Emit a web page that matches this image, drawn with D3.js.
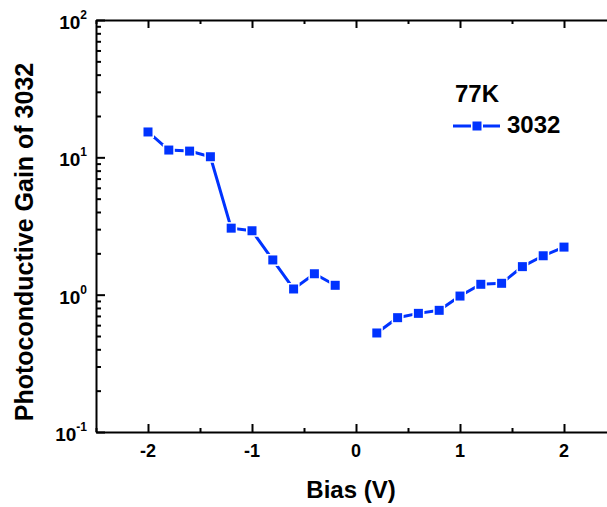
<!DOCTYPE html>
<html>
<head>
<meta charset="utf-8">
<script src="https://cdn.jsdelivr.net/npm/d3@7"></script>
<style>
  html, body { margin: 0; padding: 0; background: #fff; }
  svg { display: block; }
  text { font-family: "Liberation Sans", Arial, sans-serif; font-weight: bold; fill: #000; }
</style>
</head>
<body>
<svg id="chart" width="607" height="507"></svg>
<script>
// ---- data ----
const biasNeg = [-2.0, -1.8, -1.6, -1.4, -1.2, -1.0, -0.8, -0.6, -0.4, -0.2];
const gainNeg = [15.3, 11.3, 11.1, 10.1, 3.05, 2.92, 1.79, 1.10, 1.42, 1.17];
const biasPos = [0.2, 0.4, 0.6, 0.8, 1.0, 1.2, 1.4, 1.6, 1.8, 2.0];
const gainPos = [0.526, 0.68, 0.731, 0.769, 0.977, 1.19, 1.21, 1.60, 1.92, 2.22];
const xTicks = [-2, -1, 0, 1, 2];
const xMinorTicks = [-2.5, -1.5, -0.5, 0.5, 1.5, 2.5];
const yTicks = [0.1, 1, 10, 100];
const yExponents = ["-1", "0", "1", "2"];
const seriesName = "3032";
const legendTitle = "77K";
const xTitle = "Bias (V)";
const yTitle = "Photoconductive Gain of 3032";

const color = "#0033ff";
const svg = d3.select("#chart");
const L = 96, R = 616, T = 20, B = 432;

const x = d3.scaleLinear().domain([-2.5, 2.5]).range([L, R]);
const y = d3.scaleLog().domain([0.1, 100]).range([B, T]);

const yMinor = [];
for (let d = 0.1; d < 100; d *= 10) for (let k = 2; k <= 9; k++) yMinor.push(+(d * k).toPrecision(3));

function styleAxis(g) {
  g.select(".domain").attr("stroke", "#000").attr("stroke-width", 2);
  g.selectAll(".tick line").attr("stroke", "#000").attr("stroke-width", 2);
  g.selectAll(".tick text").remove();
}

// x axes
svg.append("g").attr("transform", `translate(0,${B})`)
  .call(d3.axisBottom(x).tickValues(xTicks).tickSizeInner(-8).tickSizeOuter(0).tickFormat(""))
  .call(styleAxis);
svg.append("g").attr("transform", `translate(0,${B})`)
  .call(d3.axisBottom(x).tickValues(xMinorTicks).tickSizeInner(-4).tickSizeOuter(0).tickFormat(""))
  .call(styleAxis).select(".domain").remove();
svg.append("g").attr("transform", `translate(0,${T})`)
  .call(d3.axisTop(x).tickValues(xTicks).tickSizeInner(-8).tickSizeOuter(0).tickFormat(""))
  .call(styleAxis);
svg.append("g").attr("transform", `translate(0,${T})`)
  .call(d3.axisTop(x).tickValues(xMinorTicks).tickSizeInner(-4).tickSizeOuter(0).tickFormat(""))
  .call(styleAxis).select(".domain").remove();

// y axes
svg.append("g").attr("transform", `translate(${L},0)`)
  .call(d3.axisLeft(y).tickValues(yTicks).tickSizeInner(-9).tickSizeOuter(0).tickFormat(""))
  .call(styleAxis);
svg.append("g").attr("transform", `translate(${L},0)`)
  .call(d3.axisLeft(y).tickValues(yMinor).tickSizeInner(-5).tickSizeOuter(0).tickFormat(""))
  .call(styleAxis).select(".domain").remove();
svg.append("g").attr("transform", `translate(${R},0)`)
  .call(d3.axisRight(y).tickValues(yTicks).tickSizeInner(-9).tickSizeOuter(0).tickFormat(""))
  .call(styleAxis);
svg.append("g").attr("transform", `translate(${R},0)`)
  .call(d3.axisRight(y).tickValues(yMinor).tickSizeInner(-5).tickSizeOuter(0).tickFormat(""))
  .call(styleAxis).select(".domain").remove();

// x tick labels
svg.append("g").selectAll("text").data(xTicks).join("text")
  .attr("x", d => x(d)).attr("y", B + 25)
  .attr("text-anchor", "middle").attr("font-size", 18)
  .text(d => String(d));

// y tick labels (10^n)
const yl = svg.append("g").selectAll("text").data(yTicks).join("text")
  .attr("x", 87).attr("y", d => y(d) + 9)
  .attr("text-anchor", "end").attr("font-size", 19);
yl.append("tspan").text("10");
yl.append("tspan").attr("dy", -10).attr("font-size", 12).text((d, i) => yExponents[i]);

// axis titles
svg.append("text").attr("x", (L + R) / 2 - 5).attr("y", 498)
  .attr("text-anchor", "middle").attr("font-size", 24).text(xTitle);
svg.append("text").attr("transform", "translate(33,242) rotate(-90)")
  .attr("text-anchor", "middle").attr("font-size", 25).text(yTitle);

// series
const line = d3.line().x(d => x(d[0])).y(d => y(d[1]));
const segs = [d3.zip(biasNeg, gainNeg), d3.zip(biasPos, gainPos)];
const plot = svg.append("g");
plot.selectAll("path").data(segs).join("path")
  .attr("d", line).attr("fill", "none").attr("stroke", color).attr("stroke-width", 3);
const pts = segs.flat();
const ms = 9;
plot.selectAll("rect").data(pts).join("rect")
  .attr("x", d => x(d[0]) - ms / 2).attr("y", d => y(d[1]) - ms / 2)
  .attr("width", ms).attr("height", ms)
  .attr("fill", color).attr("stroke", "#fff").attr("stroke-width", 3)
  .attr("paint-order", "stroke");

// legend
const lg = svg.append("g");
lg.append("text").attr("x", 455).attr("y", 102).attr("font-size", 24).text(legendTitle);
lg.append("line").attr("x1", 453).attr("x2", 500).attr("y1", 126).attr("y2", 126)
  .attr("stroke", color).attr("stroke-width", 3);
lg.append("rect").attr("x", 477 - ms / 2).attr("y", 126 - ms / 2).attr("width", ms).attr("height", ms)
  .attr("fill", color).attr("stroke", "#fff").attr("stroke-width", 3).attr("paint-order", "stroke");
lg.append("text").attr("x", 507).attr("y", 133).attr("font-size", 24).text(seriesName);
</script>
</body>
</html>
